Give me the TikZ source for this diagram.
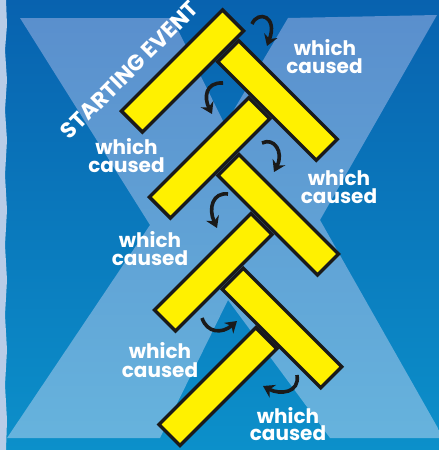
\documentclass[tikz,border=0pt]{standalone}
\usepackage{fontspec}
\setmainfont{Poppins}
\usetikzlibrary{arrows.meta}
\definecolor{darktop}{HTML}{0862AF}
\definecolor{darkbot}{HTML}{0C90CA}
\definecolor{lighttop}{HTML}{5A8FCD}
\definecolor{lightbot}{HTML}{66B3DD}
\definecolor{stripc}{HTML}{B8CCE7}
\definecolor{baryellow}{HTML}{FFF100}
\definecolor{ink}{HTML}{1A1A1A}
\tikzset{
  bar/.style={draw=ink, fill=baryellow, line width=3.5pt, inner sep=0pt, minimum height=29.7pt},
  lbl/.style={text=white, font=\bfseries\fontsize{20}{20}\selectfont, anchor=base, inner sep=0pt},
  carrow/.style={draw=ink, line width=3.6pt, -{Stealth[length=11pt,width=14pt]}},
}
\begin{document}
\begin{tikzpicture}[x=1pt,y=-1pt]
\useasboundingbox (0,0) rectangle (439,450);
% background
\shade[top color=darktop, bottom color=darkbot] (0,0) rectangle (439,450);
\shade[top color=lighttop, bottom color=lightbot]
  (20,18) -- (172,18) -- (225,125) -- (288,18) -- (437,15) -- (320,220)
  -- (439,430) -- (439,438) -- (330,438) -- (228,300) -- (160,438)
  -- (7,438) -- (150,225) -- cycle;
\fill[stripc] (0,0) -- (6,0) -- (7,25) -- (5,50) -- (7,80) -- (5,110) -- (7,140)
  -- (5,175) -- (7,210) -- (5,245) -- (7,280) -- (5,315) -- (7,350) -- (5,385)
  -- (7,420) -- (6,450) -- (0,450) -- cycle;
% bars
\node[bar, rotate=45,  minimum width=142.9pt] (A) at (182.5,71) {};
\node[bar, rotate=-45, minimum width=139.3pt] (B) at (277.5,100.5) {};
\node[bar, rotate=45,  minimum width=140.4pt] (C) at (209.6,157.9) {};
\node[bar, rotate=-45, minimum width=140.7pt] (D) at (278.25,214.75) {};
\node[bar, rotate=45,  minimum width=136.5pt] (E) at (213.25,272.25) {};
\node[bar, rotate=-45, minimum width=139.3pt] (F) at (282,328) {};
\node[bar, rotate=45,  minimum width=136.9pt] (G) at (217.9,386.6) {};
% arrows
\coordinate (a1s) at (252,24);  \coordinate (a1e) at (267,46);
\coordinate (a2s) at (223,83);  \coordinate (a2e) at (212,114);
\coordinate (a3s) at (262,143); \coordinate (a3e) at (274,172);
\coordinate (a4s) at (228,194); \coordinate (a4e) at (217,228);
\coordinate (a5s) at (202,318); \coordinate (a5e) at (237,321);
\coordinate (a6s) at (297,375); \coordinate (a6e) at (263,386);
\draw[carrow] (a1s) .. controls (258,10) and (278,16) .. (a1e);
\draw[carrow] (a2s) .. controls (205,82) and (204,98) .. (a2e);
\draw[carrow] (a3s) .. controls (274,137) and (284,152) .. (a3e);
\draw[carrow] (a4s) .. controls (213,192) and (208,208) .. (a4e);
\draw[carrow] (a5s) .. controls (207,333) and (222,334) .. (a5e);
\draw[carrow] (a6s) .. controls (300,393) and (280,395) .. (a6e);
% texts
\node[text=white, font=\bfseries\fontsize{22}{22}\selectfont, rotate=45, inner sep=0pt] (start) at (129.5,70) {STARTING EVENT};
\node[lbl] (w1) at (325,55) {which};   \node[lbl] (c1) at (324.5,73) {caused};
\node[lbl] (w2) at (126.5,154) {which}; \node[lbl] (c2) at (126.5,172) {caused};
\node[lbl] (w3) at (339,185) {which};   \node[lbl] (c3) at (339,203) {caused};
\node[lbl] (w4) at (150,247) {which};   \node[lbl] (c4) at (150,265) {caused};
\node[lbl] (w5) at (160,358) {which};   \node[lbl] (c5) at (160,377) {caused};
\node[lbl] (w6) at (288,423) {which};   \node[lbl] (c6) at (288,440) {caused};
\end{tikzpicture}
\end{document}
